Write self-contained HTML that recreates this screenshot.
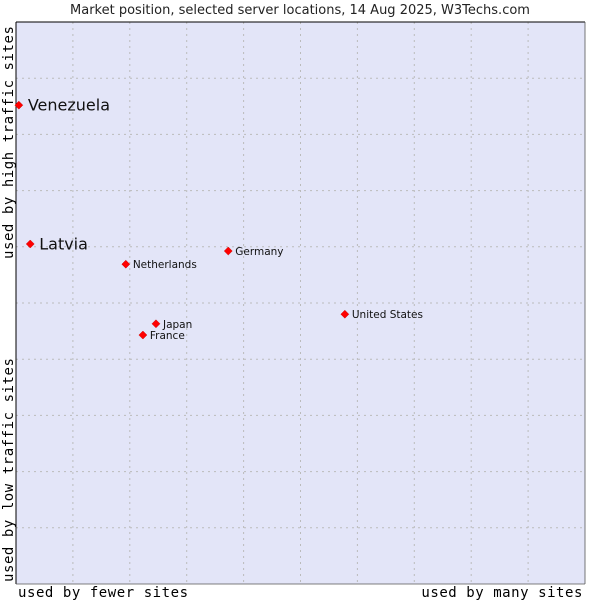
<!DOCTYPE html>
<html><head><meta charset="utf-8"><style>
body{margin:0;background:#fff;}
svg text{font-family:"DejaVu Sans","Liberation Sans",sans-serif;}
.ax{font-family:'DejaVu Sans Mono','Liberation Mono',monospace;letter-spacing:0.55px;}
</style></head><body>
<svg width="600" height="600" xmlns="http://www.w3.org/2000/svg">
<text x="300" y="14" text-anchor="middle" font-size="13" fill="#222">Market position, selected server locations, 14 Aug 2025, W3Techs.com</text>
<rect x="16" y="22" width="569" height="562" fill="#e3e5f8"/>
<g id="grid"></g>
<line x1="16" y1="22" x2="585" y2="22" stroke="#000"/>
<line x1="16" y1="22" x2="16" y2="584" stroke="#000"/>
<line x1="585" y1="22" x2="585" y2="584" stroke="#555" stroke-width="0.8"/>
<line x1="16" y1="584" x2="585" y2="584" stroke="#555" stroke-width="0.8"/>
<g id="pts"></g>
<text x="18" y="597" font-size="14" class="ax">used by fewer sites</text>
<text x="583" y="597" text-anchor="end" font-size="14" class="ax">used by many sites</text>
<text transform="translate(13,582) rotate(-90)" font-size="14" class="ax">used by low traffic sites</text>
<text transform="translate(13,259) rotate(-90)" font-size="14" class="ax">used by high traffic sites</text>
</svg>
<script>
const names=["Venezuela","Latvia","Netherlands","Germany","United States","Japan","France"];
const xVals=[0.5,2.5,19.3,37.3,57.8,24.6,22.3];
const yVals=[85.2,60.5,56.9,59.25,48.0,46.3,44.3];
const highlighted=[true,true,false,false,false,false,false];
const NS="http://www.w3.org/2000/svg";
const X=v=>16+v*5.69, Y=v=>584-v*5.62;
const grid=document.getElementById('grid');
for(let i=1;i<10;i++){
 const l=document.createElementNS(NS,'line');
 
 
 l.setAttribute('x1',X(i*10));l.setAttribute('x2',X(i*10));l.setAttribute('y1',22);l.setAttribute('y2',584);
 l.setAttribute('stroke','#bbb');l.setAttribute('stroke-dasharray','2,4');grid.appendChild(l);
 const h=document.createElementNS(NS,'line');
 
 
 h.setAttribute('x1',16);h.setAttribute('x2',585);h.setAttribute('y1',Y(i*10));h.setAttribute('y2',Y(i*10));
 h.setAttribute('stroke','#bbb');h.setAttribute('stroke-dasharray','2,4');grid.appendChild(h);
}
const pts=document.getElementById('pts');
names.forEach((n,i)=>{
 const x=X(xVals[i]),y=Y(yVals[i]);
 const c=document.createElementNS(NS,'path');
 
 
 c.setAttribute('d',`M${x-4},${y} L${x},${y-4} L${x+4},${y} L${x},${y+4} Z`);
 c.setAttribute('fill','#f00');c.setAttribute('stroke','#c00');c.setAttribute('stroke-width','0.5');
 pts.appendChild(c);
 const t=document.createElementNS(NS,'text');
 
 
 const big=highlighted[i];
 t.setAttribute('x',x+(big?9:7));t.setAttribute('y',y+(big?5.5:4));
 t.setAttribute('font-size',big?16:10.5);t.setAttribute('fill','#111');
 t.textContent=n;pts.appendChild(t);
});
</script>
</body></html>
